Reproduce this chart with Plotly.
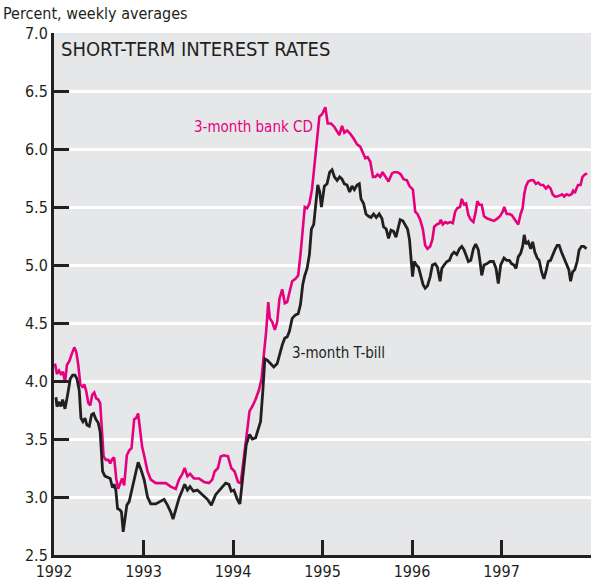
import plotly.graph_objects as go

# ---- data (decimal years, percent) ----
tbill_t = [1992.022,1992.033,1992.059,1992.078,1992.097,1992.123,1992.152,1992.182,1992.208,1992.234,
           1992.256,1992.282,1992.301,1992.323,1992.346,1992.368,1992.394,1992.420,1992.442,1992.468,
           1992.494,1992.516,1992.543,1992.569,1992.598,1992.628,1992.654,1992.672,1992.691,1992.710,
           1992.736,1992.754,1992.773,1992.792,1992.814,1992.840,1992.858,1992.888,1992.914,1992.940,
           1992.970,1993.007,1993.045,1993.081,1993.137,1993.193,1993.230,1993.268,1993.304,1993.330,
           1993.360,1993.397,1993.435,1993.460,1993.491,1993.520,1993.557,1993.602,1993.658,1993.714,
           1993.758,1993.806,1993.862,1993.918,1993.954,1993.981,1994.010,1994.048,1994.077,1994.122,
           1994.148,1994.185,1994.215,1994.252,1994.282,1994.308,1994.333,1994.356,1994.382,1994.419,
           1994.456,1994.494,1994.519,1994.550,1994.579,1994.605,1994.631,1994.661,1994.698,1994.728,
           1994.754,1994.779,1994.802,1994.828,1994.854,1994.876,1994.902,1994.921,1994.947,1994.969,
           1994.988,1995.021,1995.051,1995.080,1995.107,1995.133,1995.163,1995.192,1995.218,1995.244,
           1995.274,1995.303,1995.330,1995.356,1995.386,1995.411,1995.430,1995.459,1995.486,1995.515,
           1995.542,1995.571,1995.601,1995.634,1995.664,1995.682,1995.712,1995.738,1995.765,1995.794,
           1995.821,1995.843,1995.868,1995.898,1995.924,1995.950,1995.972,1995.991,1996.006,1996.025,
           1996.047,1996.073,1996.099,1996.124,1996.147,1996.173,1996.203,1996.228,1996.259,1996.284,
           1996.314,1996.333,1996.359,1996.389,1996.418,1996.445,1996.470,1996.500,1996.530,1996.556,
           1996.582,1996.604,1996.630,1996.657,1996.686,1996.712,1996.741,1996.760,1996.779,1996.805,
           1996.835,1996.872,1996.909,1996.939,1996.964,1996.991,1997.028,1997.058,1997.087,1997.114,
           1997.139,1997.162,1997.187,1997.214,1997.236,1997.254,1997.273,1997.299,1997.326,1997.348,
           1997.373,1997.399,1997.421,1997.448,1997.474,1997.496,1997.522,1997.548,1997.571,1997.596,
           1997.622,1997.644,1997.671,1997.697,1997.727,1997.752,1997.772,1997.794,1997.819,1997.845,
           1997.867,1997.894,1997.920,1997.950]
tbill_v = [3.86,3.78,3.82,3.78,3.84,3.76,3.88,4.02,4.05,4.05,
           4.02,3.92,3.68,3.65,3.68,3.62,3.61,3.71,3.72,3.67,
           3.64,3.56,3.22,3.18,3.17,3.16,3.08,3.11,3.06,2.90,
           2.89,2.87,2.70,2.81,2.93,2.96,3.02,3.13,3.22,3.30,
           3.24,3.15,3.00,2.94,2.94,2.96,2.98,2.93,2.87,2.81,
           2.90,2.99,3.06,3.11,3.06,3.09,3.05,3.06,3.02,2.98,
           2.93,3.02,3.07,3.12,3.11,3.05,3.06,2.98,2.94,3.24,
           3.45,3.54,3.50,3.51,3.59,3.65,3.91,4.19,4.18,4.15,
           4.12,4.15,4.23,4.31,4.37,4.38,4.43,4.54,4.57,4.58,
           4.66,4.83,4.91,4.97,5.09,5.31,5.35,5.52,5.69,5.63,
           5.50,5.68,5.70,5.80,5.82,5.76,5.73,5.76,5.74,5.70,
           5.69,5.63,5.68,5.65,5.69,5.70,5.57,5.53,5.44,5.42,
           5.41,5.44,5.41,5.44,5.40,5.33,5.31,5.23,5.30,5.29,
           5.24,5.31,5.39,5.38,5.35,5.31,5.22,5.01,4.90,5.03,
           5.00,4.98,4.91,4.83,4.80,4.82,4.90,5.00,5.01,4.98,
           4.86,4.97,5.00,5.03,5.04,5.09,5.11,5.09,5.14,5.16,
           5.13,5.09,5.03,5.04,5.14,5.18,5.13,5.03,4.91,5.00,
           5.01,5.03,5.03,4.97,4.84,5.00,5.06,5.04,5.04,5.01,
           5.00,4.97,5.07,5.10,5.16,5.26,5.18,5.20,5.14,5.20,
           5.11,5.06,5.04,4.94,4.88,4.94,5.03,5.04,5.09,5.13,
           5.17,5.17,5.11,5.06,5.00,4.96,4.86,4.94,4.96,5.03,
           5.13,5.16,5.16,5.14]

cd_t = [1992.011,1992.033,1992.056,1992.078,1992.100,1992.123,1992.145,1992.171,1992.197,1992.227,
        1992.249,1992.271,1992.294,1992.316,1992.338,1992.361,1992.383,1992.405,1992.427,1992.450,
        1992.472,1992.494,1992.516,1992.532,1992.554,1992.580,1992.606,1992.628,1992.654,1992.672,
        1992.695,1992.717,1992.739,1992.761,1992.784,1992.814,1992.840,1992.866,1992.896,1992.918,
        1992.940,1992.962,1992.985,1993.007,1993.045,1993.081,1993.137,1993.193,1993.249,1993.304,
        1993.360,1993.397,1993.435,1993.460,1993.491,1993.520,1993.564,1993.620,1993.676,1993.731,
        1993.769,1993.795,1993.832,1993.862,1993.899,1993.944,1993.981,1994.018,1994.056,1994.086,
        1994.122,1994.159,1994.185,1994.215,1994.252,1994.289,1994.319,1994.345,1994.371,1994.394,
        1994.411,1994.438,1994.467,1994.494,1994.519,1994.550,1994.579,1994.605,1994.631,1994.661,
        1994.698,1994.728,1994.754,1994.779,1994.802,1994.828,1994.854,1994.884,1994.913,1994.939,
        1994.965,1994.995,1995.032,1995.058,1995.096,1995.133,1995.163,1995.188,1995.218,1995.244,
        1995.274,1995.311,1995.348,1995.386,1995.422,1995.453,1995.478,1995.504,1995.534,1995.564,
        1995.590,1995.615,1995.645,1995.671,1995.701,1995.738,1995.776,1995.802,1995.838,1995.876,
        1995.905,1995.943,1995.972,1996.010,1996.036,1996.061,1996.091,1996.121,1996.147,1996.173,
        1996.203,1996.228,1996.248,1996.278,1996.307,1996.322,1996.344,1996.370,1996.396,1996.426,
        1996.456,1996.482,1996.507,1996.537,1996.556,1996.582,1996.604,1996.630,1996.657,1996.686,
        1996.712,1996.730,1996.753,1996.779,1996.805,1996.842,1996.880,1996.916,1996.953,1996.983,
        1997.013,1997.031,1997.058,1997.087,1997.114,1997.139,1997.169,1997.187,1997.214,1997.236,
        1997.254,1997.273,1997.299,1997.326,1997.355,1997.385,1997.410,1997.437,1997.466,1997.496,
        1997.522,1997.548,1997.571,1997.596,1997.622,1997.652,1997.678,1997.700,1997.727,1997.756,
        1997.782,1997.800,1997.819,1997.838,1997.856,1997.883,1997.905,1997.931,1997.957]
cd_v = [4.15,4.06,4.09,4.06,4.08,3.99,4.14,4.17,4.23,4.29,
        4.25,4.14,3.97,3.95,3.97,3.91,3.81,3.79,3.88,3.90,
        3.85,3.84,3.81,3.59,3.35,3.32,3.32,3.29,3.33,3.34,
        3.16,3.07,3.12,3.16,3.10,3.36,3.40,3.42,3.67,3.68,
        3.72,3.56,3.43,3.36,3.22,3.15,3.12,3.12,3.12,3.09,
        3.07,3.15,3.20,3.25,3.18,3.20,3.16,3.16,3.13,3.12,
        3.15,3.22,3.25,3.35,3.36,3.35,3.25,3.22,3.13,3.12,
        3.33,3.54,3.74,3.78,3.84,3.92,4.02,4.23,4.43,4.68,
        4.54,4.51,4.44,4.51,4.71,4.79,4.67,4.68,4.77,4.86,
        4.88,4.91,5.09,5.31,5.50,5.49,5.53,5.66,5.87,6.06,
        6.28,6.30,6.36,6.22,6.22,6.19,6.15,6.12,6.20,6.14,
        6.16,6.13,6.09,6.04,6.02,5.96,5.92,5.93,5.89,5.76,
        5.76,5.78,5.76,5.80,5.76,5.72,5.79,5.80,5.80,5.78,
        5.74,5.73,5.68,5.65,5.46,5.44,5.39,5.31,5.17,5.14,
        5.16,5.22,5.33,5.35,5.36,5.39,5.35,5.37,5.36,5.37,
        5.36,5.46,5.49,5.50,5.57,5.52,5.53,5.43,5.39,5.37,
        5.46,5.55,5.52,5.52,5.42,5.40,5.39,5.38,5.40,5.42,
        5.46,5.50,5.44,5.44,5.43,5.40,5.37,5.35,5.44,5.49,
        5.61,5.68,5.72,5.73,5.73,5.70,5.71,5.69,5.69,5.66,
        5.68,5.66,5.61,5.59,5.59,5.60,5.61,5.59,5.61,5.60,
        5.61,5.64,5.62,5.66,5.69,5.69,5.76,5.78,5.79]

year_ticks = [1992, 1993, 1994, 1995, 1996, 1997]
year_labels = ["1992", "1993", "1994", "1995", "1996", "1997"]
y_ticks = [2.5, 3.0, 3.5, 4.0, 4.5, 5.0, 5.5, 6.0, 6.5, 7.0]
y_labels = ["2.5", "3.0", "3.5", "4.0", "4.5", "5.0", "5.5", "6.0", "6.5", "7.0"]

FONT = "Liberation Sans Narrow, DejaVu Sans Condensed, Arial Narrow, sans-serif"
DARK = "#231f20"
PINK = "#e6007e"

fig = go.Figure()
fig.add_trace(go.Scatter(x=cd_t, y=cd_v, mode="lines", line=dict(color=PINK, width=2.6),
                         name="3-month bank CD", hoverinfo="skip"))
fig.add_trace(go.Scatter(x=tbill_t, y=tbill_v, mode="lines", line=dict(color=DARK, width=2.8),
                         name="3-month T-bill", hoverinfo="skip"))

fig.update_layout(
    width=591, height=580,
    margin=dict(l=54, r=0, t=33, b=25, autoexpand=False),
    paper_bgcolor="white", plot_bgcolor="#e6e7e8",
    showlegend=False,
    font=dict(family=FONT, size=16, color=DARK),
    xaxis=dict(range=[1992, 1998], tickvals=year_ticks, ticktext=year_labels,
               showgrid=False, zeroline=False, showline=True, linecolor=DARK, linewidth=3,
               ticks="inside", ticklen=15, tickwidth=3, tickcolor=DARK, automargin=False,
               tickfont=dict(family=FONT, size=16, color=DARK)),
    yaxis=dict(range=[2.5, 7.0], tickvals=y_ticks, ticktext=y_labels,
               showgrid=True, gridcolor="white", gridwidth=3, zeroline=False,
               showline=True, linecolor=DARK, linewidth=3, automargin=False,
               ticks="inside", ticklen=15, tickwidth=3, tickcolor=DARK,
               tickfont=dict(family=FONT, size=16, color=DARK)),
    annotations=[
        dict(text="Percent, weekly averages", xref="paper", yref="paper", x=0, y=1,
             xanchor="left", yanchor="top", xshift=-53, yshift=31, showarrow=False,
             font=dict(family=FONT, size=16, color=DARK)),
        dict(text="SHORT-TERM INTEREST RATES", xref="paper", yref="paper", x=0, y=1,
             xanchor="left", yanchor="top", xshift=5, yshift=-2, showarrow=False,
             font=dict(family=FONT, size=20, color=DARK)),
        dict(text="3-month bank CD", x=1993.54, y=6.19, xanchor="left", yanchor="middle",
             showarrow=False, font=dict(family=FONT, size=15, color=PINK)),
        dict(text="3-month T-bill", x=1994.64, y=4.24, xanchor="left", yanchor="middle",
             showarrow=False, font=dict(family=FONT, size=15, color=DARK)),
    ],
)

fig.write_html(
    "out.html",
    config={"displayModeBar": False, "staticPlot": True},
    post_script="document.documentElement.style.overflow='hidden';"
                "document.body.style.margin='0';document.body.style.overflow='hidden';",
)
